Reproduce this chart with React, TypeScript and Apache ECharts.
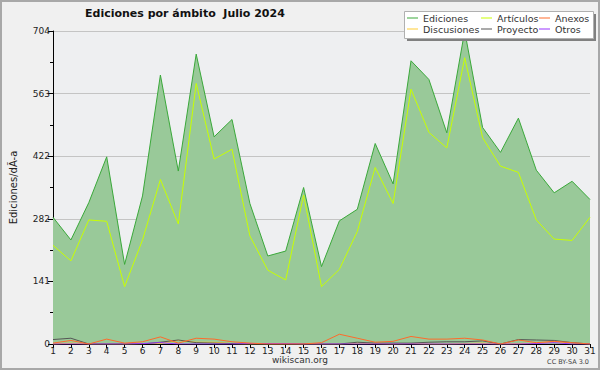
import React, { useEffect, useRef } from "react";
import * as echarts from "echarts";

const days = Array.from({ length: 31 }, (_, i) => String(i + 1));
const ediciones = [285, 234, 318, 421, 179, 333, 605, 389, 652, 466, 505, 316, 198, 209, 352, 174, 277, 303, 451, 360, 637, 595, 475, 704, 487, 431, 508, 391, 340, 366, 325];
const articulos = [222, 187, 279, 276, 129, 234, 370, 270, 586, 416, 438, 243, 166, 144, 335, 129, 168, 253, 397, 316, 573, 476, 441, 644, 464, 400, 386, 279, 236, 233, 285];
const anexos = [2, 8, 0, 11, 2, 5, 16, 2, 13, 11, 5, 2, 0, 0, 0, 3, 22, 13, 4, 6, 17, 11, 11, 13, 9, 0, 9, 3, 6, 3, 0];
const discusiones = [0, 2, 0, 0, 0, 1, 1, 8, 4, 4, 1, 0, 0, 0, 0, 0, 0, 2, 1, 0, 1, 0, 0, 1, 2, 0, 1, 2, 5, 2, 0];
const proyecto = [10, 13, 0, 0, 0, 0, 4, 9, 3, 2, 1, 0, 0, 0, 0, 0, 0, 4, 2, 2, 2, 4, 5, 5, 7, 0, 10, 9, 8, 3, 0];
const otros = [0, 0, 0, 0, 0, 1, 3, 0, 0, 0, 0, 1, 1, 1, 0, 0, 0, 0, 0, 0, 0, 0, 0, 0, 0, 0, 0, 1, 3, 0, 0];
const yMax = 704;
const yStep = 140.8;

const FONT = "DejaVu Sans";

export default function App() {
  const ref = useRef<HTMLDivElement>(null);
  useEffect(() => {
    document.body.style.margin = "0";
    const chart = echarts.init(ref.current!, null, { renderer: "svg" });
    const line = (name: string, data: number[], color: string, z = 3) => ({
      name,
      type: "line",
      data,
      symbol: "none",
      z,
      lineStyle: { color, width: 1 },
      itemStyle: { color },
    });
    const legendBase = {
      orient: "vertical",
      icon: "rect",
      itemWidth: 11,
      itemHeight: 1,
      itemGap: 1,
      padding: 0,
      z: 100,
      textStyle: { fontFamily: FONT, fontSize: 9.5, color: "#333", padding: [0, 0, 0, 0] },
      selectedMode: false,
    };
    chart.setOption({
      animation: false,
      backgroundColor: "#f0f0f0",
      textStyle: { fontFamily: FONT },
      title: {
        text: "Ediciones por ámbito  Julio 2024",
        left: 85,
        top: 8,
        padding: 0,
        textStyle: { fontFamily: FONT, fontSize: 11, fontWeight: "bold", color: "#111" },
      },
      grid: {
        left: 47,
        right: 10,
        top: 31,
        bottom: 26,
        show: true,
        backgroundColor: "#eeeff1",
        borderWidth: 0,
      },
      legend: [
        { ...legendBase, left: 407, top: 13, data: ["Ediciones", "Discusiones"] },
        { ...legendBase, left: 481, top: 13, data: ["Artículos", "Proyecto"] },
        { ...legendBase, left: 539, top: 13, data: ["Anexos", "Otros"] },
      ],
      xAxis: {
        type: "category",
        data: days,
        boundaryGap: false,
        axisLine: { lineStyle: { color: "#000", width: 1 } },
        axisTick: { show: true, length: 4, lineStyle: { color: "#000" }, interval: 0 },
        axisLabel: { fontFamily: FONT, fontSize: 9, color: "#222", margin: 2, interval: 0 },
        splitLine: { show: false },
      },
      yAxis: {
        type: "value",
        min: 0,
        max: yMax,
        interval: yStep,
        name: "Ediciones/dÃ-a",
        nameLocation: "middle",
        nameGap: 35,
        nameTextStyle: { fontFamily: FONT, fontSize: 10, color: "#222" },
        axisLine: { show: true, lineStyle: { color: "#000", width: 1 } },
        axisTick: { show: true, length: 5, lineStyle: { color: "#000" } },
        minorTick: { show: true, splitNumber: 2, length: 3, lineStyle: { color: "#000" } },
        axisLabel: {
          fontFamily: FONT,
          fontSize: 9,
          color: "#222",
          margin: 3,
          formatter: (v: number) => String(Math.round(v)),
        },
        splitLine: { show: true, lineStyle: { color: "#c4c4c4", width: 1 } },
      },
      series: [
        {
          ...line("Ediciones", ediciones, "#3aa83a", 2),
          areaStyle: { color: "#99c999", opacity: 1 },
        },
        line("Artículos", articulos, "#c8ff00"),
        line("Anexos", anexos, "#ff6a2a", 5),
        line("Discusiones", discusiones, "#ffcc33", 4),
        line("Proyecto", proyecto, "#555555", 4),
        line("Otros", otros, "#9933ff", 4),
      ],
      graphic: [
        {
          type: "rect",
          z: 50,
          shape: { x: 1, y: 1, width: 598, height: 368 },
          style: { fill: "none", stroke: "#a8a8a8", lineWidth: 2 },
        },
        {
          type: "rect",
          z: 50,
          shape: { x: 407, y: 14, width: 189, height: 27 },
          style: { fill: "#808080" },
        },
        {
          type: "rect",
          z: 51,
          shape: { x: 404.5, y: 11.5, width: 189, height: 27 },
          style: { fill: "#ffffff", stroke: "#b0b0b0", lineWidth: 1 },
        },
        {
          type: "text",
          z: 60,
          left: "center",
          top: 355,
          style: { text: "wikiscan.org", fontFamily: FONT, fontSize: 9, fill: "#333" },
        },
        {
          type: "text",
          z: 60,
          right: 11,
          top: 358,
          style: { text: "CC BY-SA 3.0", fontFamily: FONT, fontSize: 6.5, fill: "#444" },
        },
      ],
    });
    return () => chart.dispose();
  }, []);
  return <div ref={ref} style={{ width: 600, height: 370 }} />;
}
